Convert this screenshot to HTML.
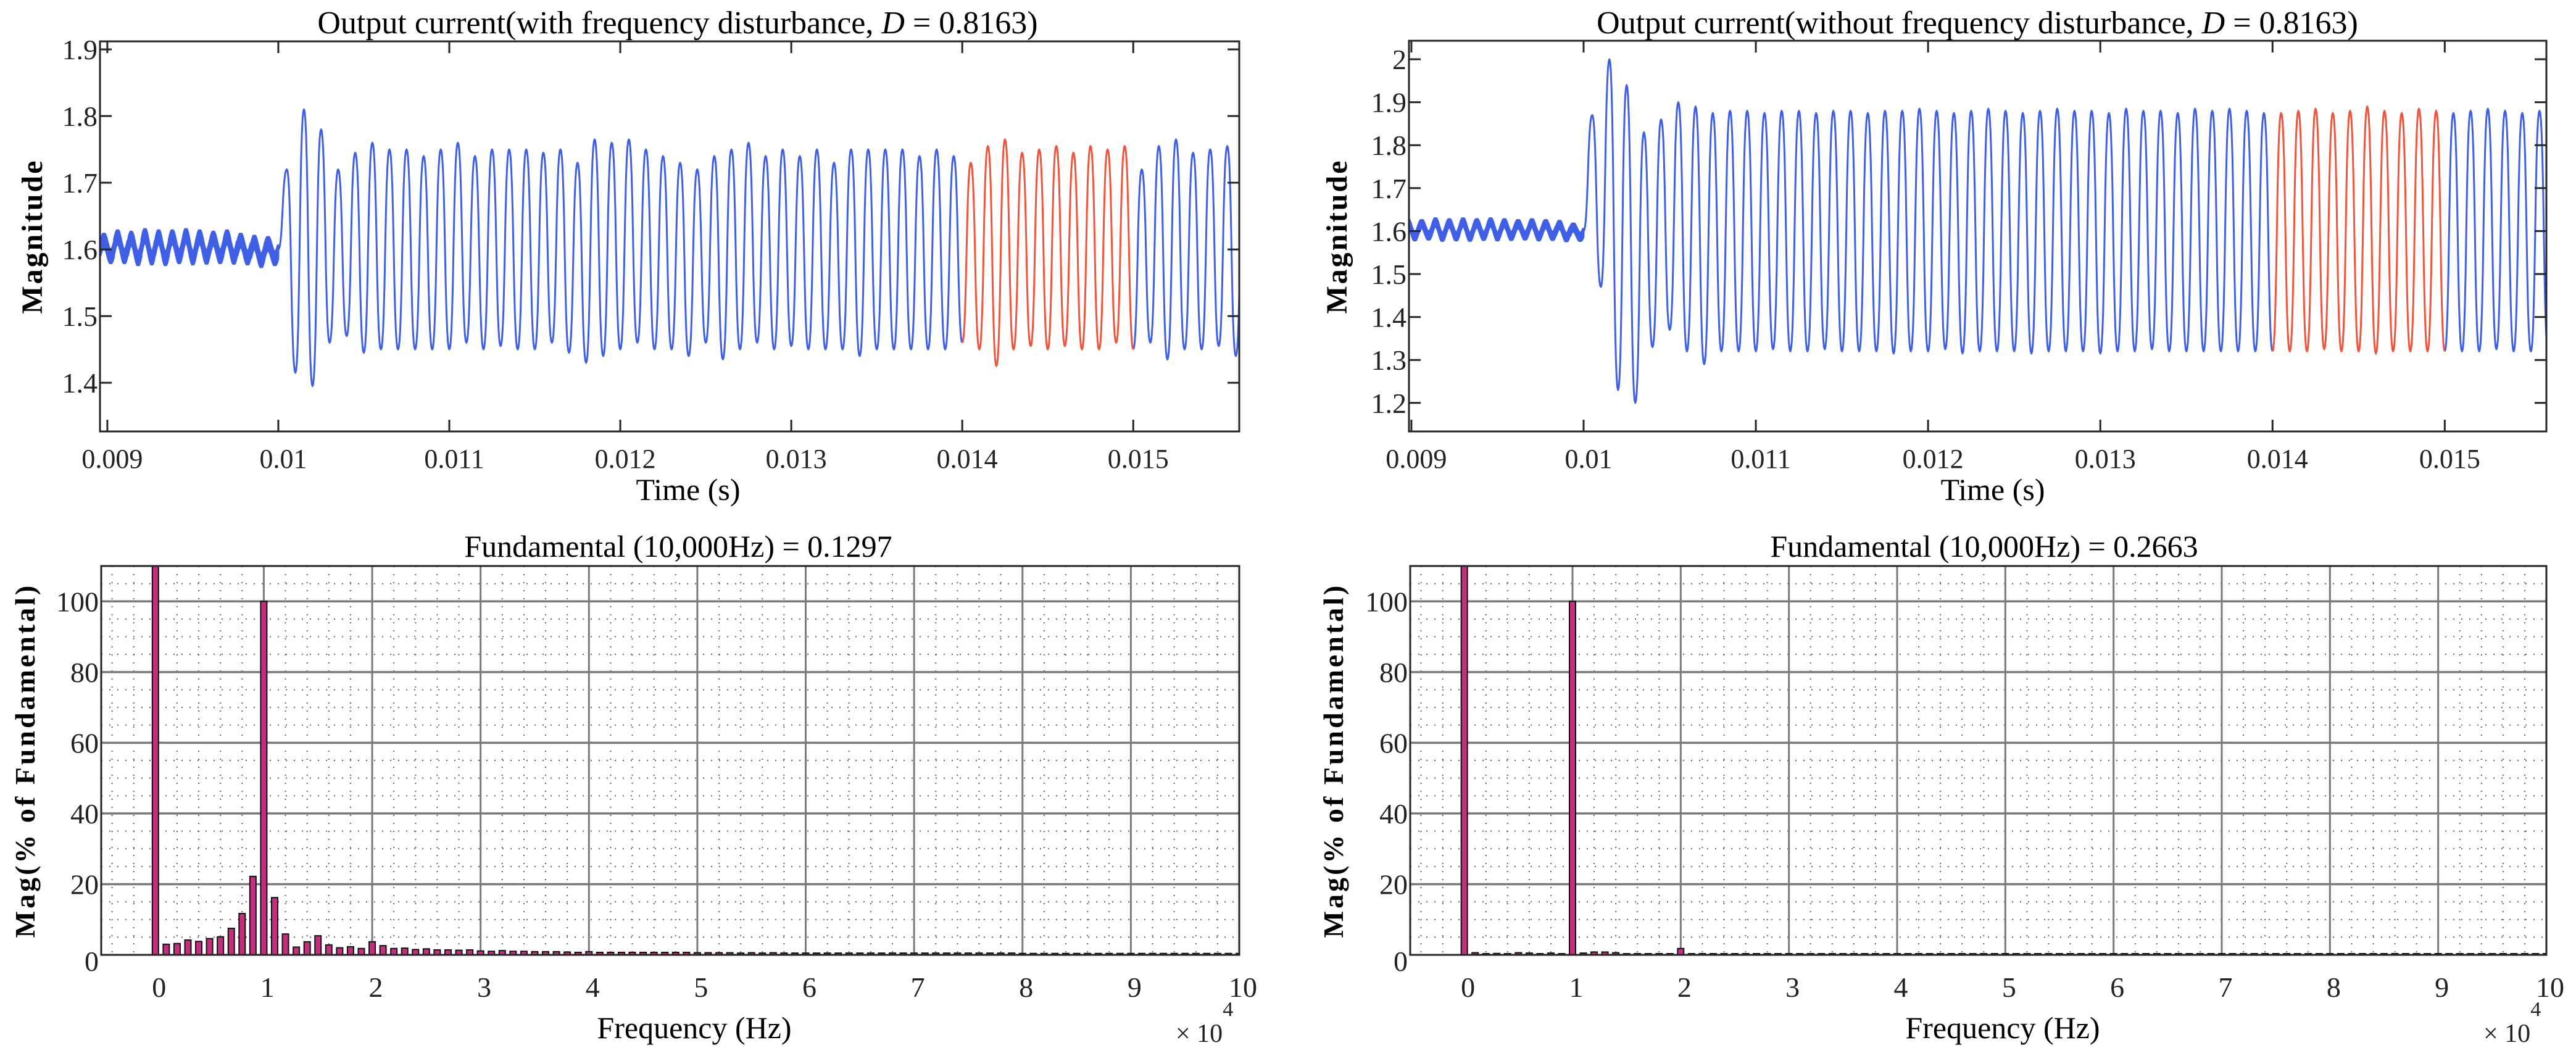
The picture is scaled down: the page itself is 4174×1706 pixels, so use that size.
<!DOCTYPE html>
<html><head><meta charset="utf-8"><style>
html,body{margin:0;padding:0;background:#fff;}
svg{display:block;font-family:"Liberation Serif",serif;}
</style></head><body>
<svg id="fig" width="4174" height="1706" viewBox="0 0 4174 1706" xmlns="http://www.w3.org/2000/svg">
<rect x="0" y="0" width="4174" height="1706" fill="#fff"/>
<g id="layer"></g>
<text x="1098" y="54" font-size="52" text-anchor="middle" fill="#000">Output current(with frequency disturbance, <tspan font-style="italic">D</tspan> = 0.8163)</text>
<text x="3204" y="54" font-size="52" text-anchor="middle" fill="#000">Output current(without frequency disturbance, <tspan font-style="italic">D</tspan> = 0.8163)</text>
<text x="1099" y="902" font-size="50" text-anchor="middle" fill="#000">Fundamental (10,000Hz) = 0.1297</text>
<text x="3215" y="902" font-size="50" text-anchor="middle" fill="#000">Fundamental (10,000Hz) = 0.2663</text>
<text x="1115" y="810" font-size="50" text-anchor="middle" fill="#000">Time (s)</text>
<text x="3229" y="810" font-size="50" text-anchor="middle" fill="#000">Time (s)</text>
<text x="1125" y="1682" font-size="50" text-anchor="middle" fill="#000">Frequency (Hz)</text>
<text x="3245" y="1682" font-size="50" text-anchor="middle" fill="#000">Frequency (Hz)</text>
<text x="1905" y="1688" font-size="42" fill="#222">× 10<tspan dy="-42" font-size="34">4</tspan></text>
<text x="4024" y="1688" font-size="42" fill="#222">× 10<tspan dy="-42" font-size="34">4</tspan></text>
<text transform="translate(68,383) rotate(-90)" font-size="48" font-weight="bold" letter-spacing="3" text-anchor="middle" fill="#000">Magnitude</text>
<text transform="translate(2182,383) rotate(-90)" font-size="48" font-weight="bold" letter-spacing="3" text-anchor="middle" fill="#000">Magnitude</text>
<text transform="translate(56,1232) rotate(-90)" font-size="46" font-weight="bold" letter-spacing="4" text-anchor="middle" fill="#000">Mag(% of Fundamental)</text>
<text transform="translate(2176,1232) rotate(-90)" font-size="46" font-weight="bold" letter-spacing="4" text-anchor="middle" fill="#000">Mag(% of Fundamental)</text>
</svg>
<script>
// ---------- data ----------
var timeTicks = [0.009, 0.010, 0.011, 0.012, 0.013, 0.014, 0.015];
var timeTickLabels = ["0.009", "0.01", "0.011", "0.012", "0.013", "0.014", "0.015"];
var leftMagTicks = [1.4, 1.5, 1.6, 1.7, 1.8, 1.9];
var rightMagTicks = [1.2, 1.3, 1.4, 1.5, 1.6, 1.7, 1.8, 1.9, 2.0];
var freqTicks = [0, 1, 2, 3, 4, 5, 6, 7, 8, 9, 10];
var pctTicks = [0, 20, 40, 60, 80, 100];

// pre-disturbance envelope per slow ripple cycle (12.5 kHz), before t = 0.01 s
var leftPreHigh = [1.628, 1.625, 1.630, 1.628, 1.632, 1.630, 1.630, 1.632, 1.630, 1.628, 1.630, 1.625, 1.622, 1.62];
var leftPreLow  = [1.580, 1.578, 1.578, 1.575, 1.576, 1.575, 1.578, 1.576, 1.577, 1.578, 1.577, 1.576, 1.572, 1.575];
var rightPreHigh = [1.628, 1.630, 1.628, 1.632, 1.630, 1.632, 1.630, 1.632, 1.630, 1.628, 1.630, 1.628, 1.626, 1.62];
var rightPreLow  = [1.578, 1.576, 1.578, 1.575, 1.576, 1.575, 1.577, 1.576, 1.577, 1.578, 1.576, 1.577, 1.574, 1.575];

// per-cycle (10 kHz) peaks and troughs after t = 0.01 s
var leftPeaks = [1.72,1.81,1.78,1.72,1.745,1.76,1.75,1.75,1.74,1.75,1.76,1.74,1.75,1.75,1.75,1.745,1.75,1.73,1.765,1.76,1.765,1.75,1.74,1.73,1.72,1.74,1.75,1.76,1.74,1.75,1.74,1.75,1.73,1.75,1.75,1.75,1.75,1.74,1.75,1.74,1.73,1.755,1.765,1.745,1.75,1.755,1.745,1.755,1.75,1.755,1.72,1.755,1.765,1.745,1.75,1.755,1.75];
var leftTroughs = [1.415,1.395,1.46,1.47,1.445,1.45,1.45,1.45,1.45,1.45,1.46,1.45,1.455,1.45,1.45,1.46,1.445,1.43,1.44,1.45,1.46,1.45,1.45,1.44,1.46,1.435,1.45,1.46,1.45,1.455,1.45,1.45,1.45,1.44,1.45,1.45,1.45,1.45,1.45,1.46,1.45,1.425,1.45,1.455,1.45,1.455,1.45,1.45,1.46,1.45,1.46,1.435,1.45,1.45,1.455,1.44,1.45];
var rightPeaks = [1.87,2.0,1.94,1.83,1.86,1.90,1.89,1.875,1.88,1.88,1.875,1.88,1.88,1.875,1.88,1.88,1.875,1.88,1.88,1.885,1.88,1.875,1.88,1.885,1.88,1.875,1.88,1.885,1.88,1.88,1.875,1.885,1.88,1.88,1.875,1.885,1.88,1.885,1.88,1.875,1.875,1.88,1.885,1.875,1.88,1.89,1.88,1.875,1.885,1.88,1.875,1.88,1.885,1.88,1.875,1.88,1.87];
var rightTroughs = [1.47,1.23,1.20,1.33,1.37,1.32,1.29,1.32,1.32,1.32,1.325,1.32,1.32,1.325,1.32,1.32,1.32,1.315,1.32,1.32,1.325,1.315,1.32,1.32,1.32,1.315,1.32,1.32,1.32,1.315,1.32,1.32,1.325,1.32,1.32,1.32,1.32,1.32,1.32,1.32,1.32,1.32,1.325,1.32,1.32,1.315,1.32,1.32,1.32,1.32,1.32,1.32,1.325,1.32,1.32,1.32,1.32];

// harmonic spectra, bins every 1000 Hz (0.1 x 10^4), % of fundamental
var leftSpectrum = [300,3.0,3.2,4.2,3.8,4.6,5.1,7.5,11.7,22.2,100,16.2,5.9,2.2,3.7,5.4,2.8,2.0,2.3,1.8,3.7,2.6,1.8,1.9,1.5,1.7,1.4,1.4,1.3,1.4,1.1,1.0,1.2,1.0,1.0,0.9,0.9,0.9,0.8,0.7,0.9,0.7,0.7,0.7,0.7,0.7,0.7,0.7,0.7,0.7,0.6,0.6,0.6,0.6,0.5,0.6,0.5,0.6,0.5,0.5,0.5,0.5,0.5,0.5,0.5,0.5,0.5,0.5,0.5,0.5,0.5,0.5,0.5,0.5,0.5,0.5,0.5,0.5,0.5,0.5,0.4,0.4,0.4,0.4,0.4,0.4,0.4,0.4,0.4,0.4,0.4,0.4,0.4,0.4,0.4,0.4,0.4,0.4,0.4,0.4,0.4];
var rightSpectrum = [300,0.6,0.2,0.4,0.2,0.6,0.5,0.3,0.5,0.2,100,0.5,0.8,0.8,0.6,0.3,0.3,0.3,0.2,0.2,1.8,0.2,0.3,0.1,0.1,0.1,0.1,0.1,0.1,0.1,0.1,0.1,0.1,0.1,0.1,0.1,0.1,0.1,0.1,0.1,0.1,0.1,0.1,0.1,0.1,0.1,0.1,0.1,0.2,0.1,0.1,0.1,0.1,0.1,0.1,0.1,0.1,0.1,0.1,0.1,0.1,0.1,0.1,0.1,0.1,0.1,0.1,0.1,0.1,0.1,0.1,0.1,0.1,0.1,0.1,0.1,0.1,0.1,0.1,0.1,0.1,0.1,0.1,0.1,0.1,0.1,0.1,0.1,0.1,0.1,0.1,0.1,0.1,0.1,0.1,0.1,0.1,0.1,0.1,0.1,0.1];

// ---------- drawing ----------
var NS = "http://www.w3.org/2000/svg";
var layer = document.getElementById("layer");
function mk(tag, attrs, parent) {
  var e = document.createElementNS(NS, tag);
  for (var k in attrs) e.setAttribute(k, attrs[k]);
  (parent || layer).appendChild(e);
  return e;
}
function lin(d0, d1, r0, r1) { return function (v) { return r0 + (v - d0) / (d1 - d0) * (r1 - r0); }; }

function timePanel(name, box, xd, yd, yTicks, pre, preLow, peaks, troughs) {
  var X = lin(xd[0], xd[1], box.x0, box.x1), Y = lin(yd[0], yd[1], box.y1, box.y0);
  var g = mk("g", {});
  
  
  var clipId = name + "-clip";
  var cp = mk("clipPath", { id: clipId }, g);
  mk("rect", { x: box.x0, y: box.y0, width: box.x1 - box.x0, height: box.y1 - box.y0 }, cp);
  // pre-disturbance band
  var d = "", tStart = 0.01 - pre.length * 0.00008, first = true;
  for (var c = 0; c < pre.length; c++) {
    var hi = pre[c], lo = preLow[c];
    var mid = (hi + lo) / 2, slowA = (hi - lo) / 2 - 0.011;
    for (var s = 0; s < 64; s++) {
      var t = tStart + c * 0.00008 + s * 0.00000125;
      var slow = mid + slowA * Math.sin(2 * Math.PI * s / 64);
      var v = slow + (s % 2 ? 0.011 : -0.011);
      d += (first ? "M" : "L") + X(t).toFixed(1) + "," + Y(v).toFixed(1);
      first = false;
    }
  }
  var pl = mk("path", { d: d, fill: "none", stroke: "#3e5fe6", "stroke-width": 4, "clip-path": "url(#" + clipId + ")" }, g);
  
  
  // main oscillation: extrema sequence
  var ext = [[0.01, 1.6]];
  for (var k = 0; k < peaks.length; k++) {
    ext.push([0.01005 + k * 0.0001, peaks[k]]);
    if (k < troughs.length) ext.push([0.0101 + k * 0.0001, troughs[k]]);
  }
  var pts = [];
  for (var i = 0; i < ext.length - 1; i++) {
    var a = ext[i], b = ext[i + 1];
    for (var s2 = 0; s2 < 12; s2++) {
      var f = s2 / 12, w = (1 - Math.cos(Math.PI * f)) / 2;
      w = w < 0.5 ? 2 * w * w * 0.5 + w * 0.5 : 1 - (2 * (1 - w) * (1 - w) * 0.5 + (1 - w) * 0.5);
      pts.push([a[0] + (b[0] - a[0]) * f, a[1] + (b[1] - a[1]) * w]);
    }
  }
  pts.push(ext[ext.length - 1]);
  function seg(cond, col, nm) {
    var dd = "", started = false;
    for (var j = 0; j < pts.length; j++) {
      var p = pts[j];
      if (cond(p[0])) { dd += (started ? "L" : "M") + X(p[0]).toFixed(1) + "," + Y(p[1]).toFixed(1); started = true; }
      else { started = false; }
    }
    var e = mk("path", { d: dd, fill: "none", stroke: col, "stroke-width": 3, "stroke-linejoin": "round", "clip-path": "url(#" + clipId + ")" }, g);
    
    
  }
  seg(function (t) { return t < 0.014 + 1e-9; }, "#3e5fe6", name + "-output-line-a");
  seg(function (t) { return t > 0.015 - 1e-9; }, "#3e5fe6", name + "-output-line-b");
  seg(function (t) { return t >= 0.014 - 1e-9 && t <= 0.015 + 1e-9; }, "#f0543c", name + "-highlight-window");
  // axes box & ticks
  var r = mk("rect", { x: box.x0, y: box.y0, width: box.x1 - box.x0, height: box.y1 - box.y0, fill: "none", stroke: "#262626", "stroke-width": 3 }, g);
  
  
  timeTicks.forEach(function (t, i) {
    var x = X(t);
    mk("line", { x1: x, y1: box.y1, x2: x, y2: box.y1 - 19, stroke: "#262626", "stroke-width": 3 }, g);
    mk("line", { x1: x, y1: box.y0, x2: x, y2: box.y0 + 19, stroke: "#262626", "stroke-width": 3 }, g);
    var tx = mk("text", { x: x + 8, y: 758, "font-size": 44, "text-anchor": "middle", fill: "#222" }, g);
    tx.textContent = timeTickLabels[i];
    
    
  });
  yTicks.forEach(function (v) {
    var y = Y(v);
    mk("line", { x1: box.x0, y1: y, x2: box.x0 + 19, y2: y, stroke: "#262626", "stroke-width": 3 }, g);
    mk("line", { x1: box.x1, y1: y, x2: box.x1 - 19, y2: y, stroke: "#262626", "stroke-width": 3 }, g);
    var ty = mk("text", { x: box.x0 - 4, y: y + 16, "font-size": 46, "text-anchor": "end", fill: "#222" }, g);
    ty.textContent = (Math.round(v * 10) / 10).toString();
    
    
  });
}

function specPanel(name, box, values) {
  var X = lin(-0.5, 10, box.x0, box.x1), Y = lin(0, 110, box.y1, box.y0);
  var g = mk("g", {});
  
  
  var clipId = name + "-clip";
  var cp = mk("clipPath", { id: clipId }, g);
  mk("rect", { x: box.x0, y: box.y0, width: box.x1 - box.x0, height: box.y1 - box.y0 }, cp);
  for (var m = -0.4; m < 10; m += 0.2) {
    var mr = Math.round(m * 10) / 10;
    if (Math.abs(mr - Math.round(mr)) < 1e-6) continue;
    mk("line", { x1: X(mr), y1: box.y0, x2: X(mr), y2: box.y1, stroke: "#666", "stroke-width": 2, "stroke-dasharray": "2,11" }, g);
  }
  for (var p = 5; p < 110; p += 5) {
    if (p % 20 === 0) continue;
    mk("line", { x1: box.x0, y1: Y(p), x2: box.x1, y2: Y(p), stroke: "#666", "stroke-width": 2, "stroke-dasharray": "2,11" }, g);
  }
  freqTicks.forEach(function (f) {
    var l = mk("line", { x1: X(f), y1: box.y0, x2: X(f), y2: box.y1, stroke: "#7a7a7a", "stroke-width": 3 }, g);
    
    
    var tx = mk("text", { x: X(f) + 6, y: 1615, "font-size": 46, "text-anchor": "middle", fill: "#222" }, g);
    tx.textContent = String(f);
    
    
  });
  pctTicks.forEach(function (v) {
    if (v > 0) {
      var l = mk("line", { x1: box.x0, y1: Y(v), x2: box.x1, y2: Y(v), stroke: "#7a7a7a", "stroke-width": 3.5 }, g);
      
      
    }
    var ty = mk("text", { x: box.x0 - 4, y: Y(v) + 16 + (v === 0 ? 10 : 0), "font-size": 46, "text-anchor": "end", fill: "#222" }, g);
    ty.textContent = String(v);
    
    
  });
  values.forEach(function (v, h) {
    var f = h * 0.1, x = X(f), top = Y(Math.max(v, 0.35));
    var b = mk("rect", { x: x - 5, y: top, width: 10, height: box.y1 - top, fill: "#c4307f", stroke: "#111", "stroke-width": 2, "clip-path": "url(#" + clipId + ")" }, g);
    
    
  });
  var r = mk("rect", { x: box.x0, y: box.y0, width: box.x1 - box.x0, height: box.y1 - box.y0, fill: "none", stroke: "#262626", "stroke-width": 3 }, g);
  
  
}

timePanel("top-left", { x0: 162, x1: 2008, y0: 67, y1: 699 }, [0.008957, 0.01562], [1.327, 1.912], leftMagTicks, leftPreHigh, leftPreLow, leftPeaks, leftTroughs);
timePanel("top-right", { x0: 2283, x1: 4126, y0: 66, y1: 699 }, [0.008986, 0.01559], [1.1336, 2.0431], rightMagTicks, rightPreHigh, rightPreLow, rightPeaks, rightTroughs);
specPanel("bottom-left", { x0: 164, x1: 2008, y0: 917, y1: 1547 }, leftSpectrum);
specPanel("bottom-right", { x0: 2285, x1: 4126, y0: 917, y1: 1547 }, rightSpectrum);
</script>
</body></html>
